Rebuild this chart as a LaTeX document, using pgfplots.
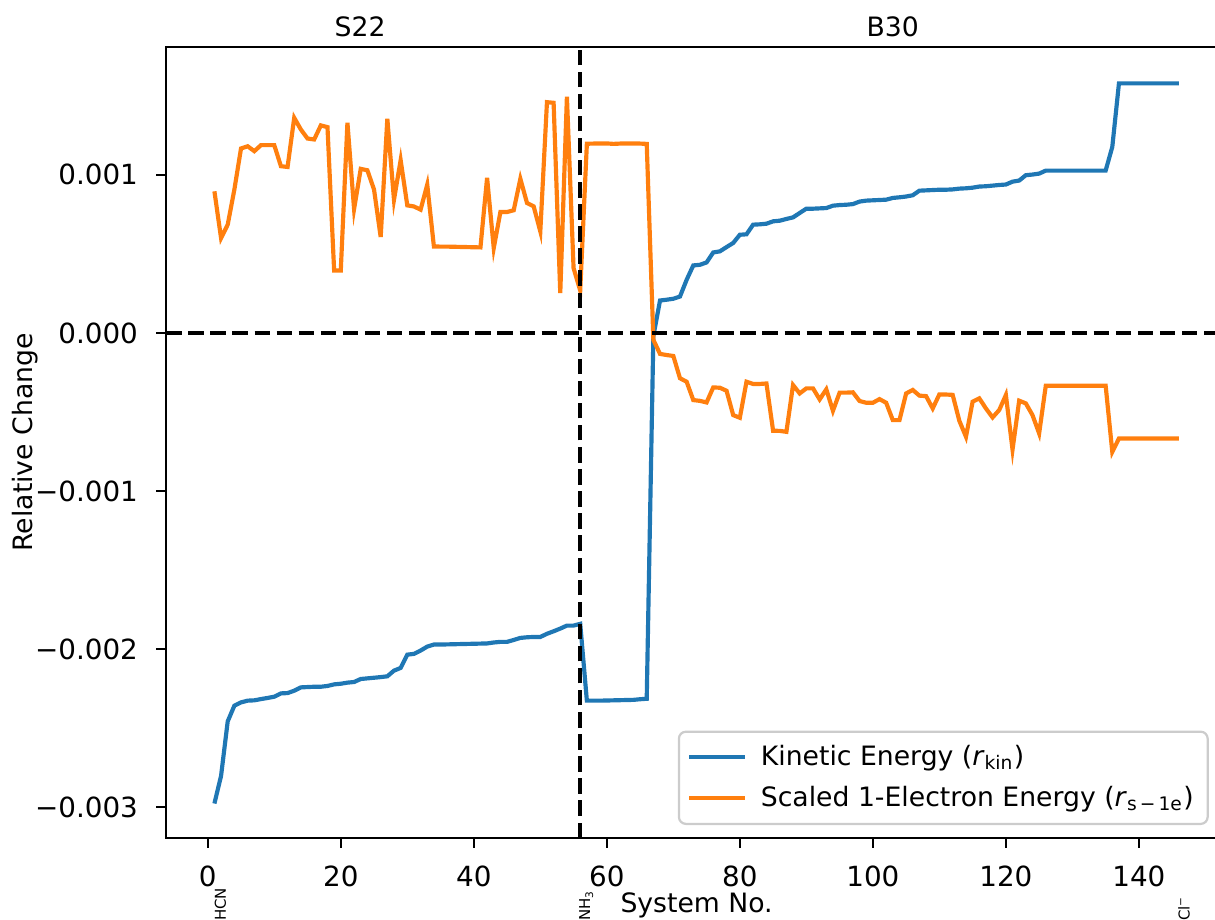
\documentclass[border=0pt]{standalone}
\usepackage{fontspec}
\setmainfont{DejaVu Sans}
\usepackage{pgfplots}
\usepackage{pgfplotstable}
\pgfplotsset{compat=1.18}

\definecolor{mplblue}{HTML}{1F77B4}
\definecolor{mplorange}{HTML}{FF7F0E}
\definecolor{legframe}{HTML}{CCCCCC}

% x = system number, kin = r_kin, s1e = r_s-1e
\pgfplotstableread{
x kin s1e
1 -0.002978 0.000896
2 -0.002803 0.000600
3 -0.002458 0.000685
4 -0.002359 0.000907
5 -0.002338 0.001167
6 -0.002327 0.001181
7 -0.002325 0.001150
8 -0.002317 0.001188
9 -0.002310 0.001188
10 -0.002302 0.001188
11 -0.002281 0.001055
12 -0.002279 0.001050
13 -0.002264 0.001361
14 -0.002243 0.001287
15 -0.002241 0.001230
16 -0.002239 0.001224
17 -0.002239 0.001313
18 -0.002234 0.001302
19 -0.002224 0.000395
20 -0.002220 0.000395
21 -0.002213 0.001330
22 -0.002209 0.000784
23 -0.002190 0.001038
24 -0.002186 0.001029
25 -0.002182 0.000907
26 -0.002178 0.000607
27 -0.002173 0.001355
28 -0.002137 0.000843
29 -0.002120 0.001093
30 -0.002036 0.000807
31 -0.002031 0.000800
32 -0.002010 0.000780
33 -0.001985 0.000938
34 -0.001972 0.000547
35 -0.001972 0.000546
36 -0.001971 0.000546
37 -0.001970 0.000545
38 -0.001969 0.000544
39 -0.001968 0.000543
40 -0.001967 0.000542
41 -0.001966 0.000541
42 -0.001965 0.000981
43 -0.001959 0.000537
44 -0.001955 0.000765
45 -0.001955 0.000765
46 -0.001943 0.000776
47 -0.001930 0.000975
48 -0.001926 0.000822
49 -0.001924 0.000801
50 -0.001924 0.000642
51 -0.001904 0.001460
52 -0.001888 0.001456
53 -0.001871 0.000252
54 -0.001852 0.001495
55 -0.001852 0.000410
56 -0.001841 0.000268
57 -0.002327 0.001197
58 -0.002327 0.001198
59 -0.002327 0.001198
60 -0.002326 0.001199
61 -0.002325 0.001196
62 -0.002324 0.001198
63 -0.002323 0.001199
64 -0.002322 0.001198
65 -0.002318 0.001198
66 -0.002315 0.001196
67 -0.000020 -0.000044
68 0.000205 -0.000133
69 0.000210 -0.000140
70 0.000216 -0.000146
71 0.000230 -0.000287
72 0.000336 -0.000309
73 0.000427 -0.000425
74 0.000431 -0.000430
75 0.000446 -0.000440
76 0.000509 -0.000345
77 0.000516 -0.000347
78 0.000543 -0.000366
79 0.000569 -0.000520
80 0.000621 -0.000537
81 0.000624 -0.000309
82 0.000685 -0.000323
83 0.000687 -0.000323
84 0.000691 -0.000320
85 0.000706 -0.000619
86 0.000710 -0.000620
87 0.000721 -0.000626
88 0.000731 -0.000330
89 0.000759 -0.000383
90 0.000786 -0.000351
91 0.000786 -0.000351
92 0.000788 -0.000421
93 0.000790 -0.000357
94 0.000805 -0.000493
95 0.000809 -0.000378
96 0.000811 -0.000378
97 0.000815 -0.000376
98 0.000831 -0.000431
99 0.000837 -0.000442
100 0.000839 -0.000442
101 0.000841 -0.000419
102 0.000843 -0.000442
103 0.000854 -0.000552
104 0.000858 -0.000552
105 0.000863 -0.000383
106 0.000871 -0.000361
107 0.000900 -0.000397
108 0.000902 -0.000400
109 0.000904 -0.000478
110 0.000906 -0.000389
111 0.000906 -0.000390
112 0.000908 -0.000392
113 0.000913 -0.000556
114 0.000915 -0.000657
115 0.000919 -0.000435
116 0.000926 -0.000414
117 0.000928 -0.000478
118 0.000932 -0.000535
119 0.000936 -0.000488
120 0.000939 -0.000393
121 0.000957 -0.000738
122 0.000964 -0.000429
123 0.000998 -0.000446
124 0.001002 -0.000520
125 0.001008 -0.000636
126 0.001027 -0.000334
127 0.001027 -0.000334
128 0.001027 -0.000334
129 0.001027 -0.000334
130 0.001027 -0.000334
131 0.001027 -0.000334
132 0.001027 -0.000334
133 0.001027 -0.000334
134 0.001027 -0.000334
135 0.001027 -0.000334
136 0.001177 -0.000753
137 0.001579 -0.000668
138 0.001579 -0.000668
139 0.001579 -0.000668
140 0.001579 -0.000668
141 0.001579 -0.000668
142 0.001579 -0.000668
143 0.001579 -0.000668
144 0.001579 -0.000668
145 0.001579 -0.000668
146 0.001579 -0.000668
}\relchange

\begin{document}
\begin{tikzpicture}
\begin{axis}[
    at={(0,0)}, anchor=south west,
    scale only axis,
    width=381.9pt, height=284.8pt,
    xmin=-6.25, xmax=153.25,
    ymin=-0.003196, ymax=0.00181,
    clip=false,
    axis line style={line width=0.8pt},
    tick style={line width=0.8pt, black},
    major tick length=3.5pt,
    tick align=outside,
    tick pos=left,
    /pgf/number format/assume math mode=true,
    xtick={0,20,...,140},
    ytick={-0.003,-0.002,-0.001,0,0.001},
    yticklabels={−0.003,−0.002,−0.001,0.000,0.001},
    scaled y ticks=false,
    xticklabel style={anchor=north, inner sep=0pt, yshift=-6.4pt},
    yticklabel style={anchor=east, inner sep=0pt, xshift=-6.5pt},
    xlabel={System No.},
    ylabel={Relative Change},
    xlabel style={at={(axis description cs:0.5,0)}, anchor=north, inner sep=0pt,
      yshift=-19.5pt, font=\fontsize{9.6}{11.5}\selectfont},
    ylabel style={at={(axis description cs:-0.1207,0.5)}, anchor=south, inner sep=0pt,
      font=\fontsize{9.6}{11.5}\selectfont},
    legend cell align=left,
    legend image code/.code={\draw[#1] (0pt,0pt) -- (20pt,0pt);},
    legend style={at={(axis description cs:0.9828,0.0164)}, anchor=south east,
      draw=legframe, line width=0.8pt, rounded corners=2.5pt, fill=white,
      inner xsep=3pt, inner ysep=2.8pt, row sep=2pt,
      font=\fontsize{9.6}{11.5}\selectfont,
      nodes={inner sep=2pt},
      /tikz/every odd column/.append style={column sep=3pt}},
]
\addplot[mplblue, line width=1.5pt] table[x=x, y=kin] {\relchange};
\addlegendentry{Kinetic Energy (\textit{r}\textsubscript{kin})}
\addplot[mplorange, line width=1.5pt] table[x=x, y=s1e] {\relchange};
\addlegendentry{Scaled 1-Electron Energy (\textit{r}\textsubscript{s\,−\,1e})}

% reference lines
\addplot[black, line width=1.5pt, dash pattern=on 5.55pt off 2.4pt, forget plot]
  coordinates {(-6.25,0) (153.25,0)};
\addplot[black, line width=1.5pt, dash pattern=on 5.55pt off 2.4pt, forget plot]
  coordinates {(56,-0.003196) (56,0.00181)};

% dataset names on top
\node[anchor=base, inner sep=0pt, yshift=3.6pt, font=\fontsize{9.6}{11.5}\selectfont]
  at (axis cs:22.9,0.00181) {S22};
\node[anchor=base, inner sep=0pt, yshift=3.6pt, font=\fontsize{9.6}{11.5}\selectfont]
  at (axis cs:103,0.00181) {B30};

% system names below the ticks
\node[rotate=90, anchor=west, inner sep=0pt, font=\fontsize{5.4}{6}\selectfont]
  at ([yshift=-30pt]axis cs:1.9,-0.003196) {HCN};
\node[rotate=90, anchor=west, inner sep=0pt, font=\fontsize{5.4}{6}\selectfont]
  at ([yshift=-30pt]axis cs:56.9,-0.003196) {NH\textsubscript{3}};
\node[rotate=90, anchor=west, inner sep=0pt, font=\fontsize{5.4}{6}\selectfont]
  at ([yshift=-30pt]axis cs:146.8,-0.003196) {Cl\textsuperscript{−}};
\end{axis}
\pgfresetboundingbox
\path[use as bounding box] (-59.83pt,-29.52pt) rectangle (377.57pt,301.68pt);
\end{tikzpicture}
\end{document}
